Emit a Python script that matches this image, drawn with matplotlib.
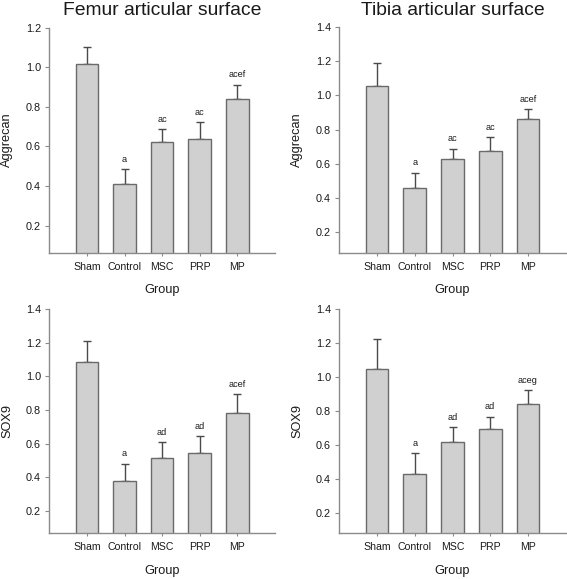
import matplotlib
matplotlib.use("Agg")
import matplotlib.pyplot as plt

plt.rcParams['font.family'] = ['Liberation Sans', 'DejaVu Sans']

groups = ["Sham", "Control", "MSC", "PRP", "MP"]

femur_aggrecan = [1.018, 0.410, 0.620, 0.639, 0.837]
femur_aggrecan_err = [0.083, 0.076, 0.067, 0.085, 0.074]
femur_aggrecan_sig = ["", "a", "ac", "ac", "acef"]

tibia_aggrecan = [1.055, 0.455, 0.625, 0.675, 0.860]
tibia_aggrecan_err = [0.137, 0.092, 0.062, 0.080, 0.058]
tibia_aggrecan_sig = ["", "a", "ac", "ac", "acef"]

femur_sox9 = [1.087, 0.380, 0.516, 0.546, 0.784]
femur_sox9_err = [0.125, 0.099, 0.091, 0.097, 0.108]
femur_sox9_sig = ["", "a", "ad", "ad", "acef"]

tibia_sox9 = [1.049, 0.428, 0.620, 0.692, 0.841]
tibia_sox9_err = [0.175, 0.123, 0.084, 0.075, 0.081]
tibia_sox9_sig = ["", "a", "ad", "ad", "aceg"]

titles = ["Femur articular surface", "Tibia articular surface"]

W, H = 567, 579
fig = plt.figure(figsize=(W / 100, H / 100), dpi=100)

def rect(left, right, top, bottom):
    return [left / W, 1 - bottom / H, (right - left) / W, (bottom - top) / H]

panels = [
    (rect(49.3, 275.0, 27.5, 252.7), femur_aggrecan, femur_aggrecan_err, femur_aggrecan_sig,
     "Aggrecan", (0.064, 1.2), [0.2, 0.4, 0.6, 0.8, 1.0, 1.2]),
    (rect(339.3, 565.7, 27.3, 252.7), tibia_aggrecan, tibia_aggrecan_err, tibia_aggrecan_sig,
     "Aggrecan", (0.077, 1.4), [0.2, 0.4, 0.6, 0.8, 1.0, 1.2, 1.4]),
    (rect(49.3, 275.0, 309.0, 533.3), femur_sox9, femur_sox9_err, femur_sox9_sig,
     "SOX9", (0.066, 1.4), [0.2, 0.4, 0.6, 0.8, 1.0, 1.2, 1.4]),
    (rect(339.3, 565.7, 309.0, 533.3), tibia_sox9, tibia_sox9_err, tibia_sox9_sig,
     "SOX9", (0.080, 1.4), [0.2, 0.4, 0.6, 0.8, 1.0, 1.2, 1.4]),
]

axis_col = "#8a8a8a"
edge_col = "#6a6a6a"
err_col = "#4a4a4a"
fill_col = "#d0d0d0"
text_col = "#1a1a1a"

axes = []
for i, (r, vals, errs, sig, ylab, ylim, yt) in enumerate(panels):
    ax = fig.add_axes(r)
    axes.append(ax)
    x = list(range(len(groups)))
    ax.bar(x, vals, width=0.6, color=fill_col, edgecolor=edge_col, linewidth=1.0, zorder=2)
    ax.errorbar(x, vals, yerr=[[0] * len(errs), errs], fmt='none', ecolor=err_col,
                elinewidth=1.0, capsize=3, capthick=1.0, zorder=1)
    for xi, v, e, s in zip(x, vals, errs, sig):
        if s:
            ax.annotate(s, (xi, v + e), xytext=(0, 5.3), textcoords='offset points',
                        ha='center', va='baseline', fontsize=6.6, color=text_col)
    ax.set_xlim(-1, 5)
    ax.set_ylim(*ylim)
    ax.set_yticks(yt)
    ax.set_yticklabels([f"{t:.1f}" for t in yt])
    ax.set_xticks(x)
    ax.set_xticklabels(groups)
    for sp in ["top", "right"]:
        ax.spines[sp].set_visible(False)
    for sp in ["left", "bottom"]:
        ax.spines[sp].set_color(axis_col)
        ax.spines[sp].set_linewidth(1.0)
    ax.tick_params(axis='y', direction='out', length=3, width=0.8, color=axis_col,
                   labelsize=7.8, labelcolor=text_col, pad=3)
    ax.tick_params(axis='x', direction='out', length=2.5, width=0.8, color=axis_col,
                   labelsize=7.6, labelcolor=text_col, pad=4)
    ax.text(-0.186, 0.5, ylab, transform=ax.transAxes, rotation=90, ha='center', va='center',
            fontsize=9.2, color=text_col)
    ax.text(0.5, -37.5 / 225.2, "Group", transform=ax.transAxes, ha='center', va='center',
            fontsize=9.2, color=text_col)
    if i < 2:
        ax.text(0.5, 1 + (27.5 - 15.0) / 225.2, titles[i], transform=ax.transAxes,
                ha='center', va='baseline', fontsize=13.9, color=text_col)

fig.savefig("out.png", dpi=100, facecolor="white")
